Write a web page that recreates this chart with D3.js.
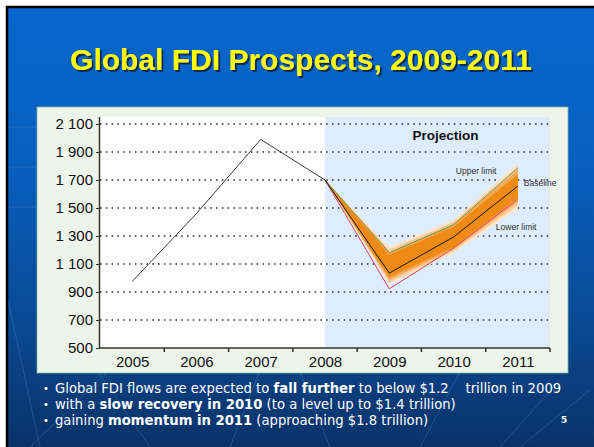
<!DOCTYPE html>
<html>
<head>
<meta charset="utf-8">
<script src="https://cdn.jsdelivr.net/npm/d3@7"></script>
<style>
body{margin:0;background:#fff;}
svg{display:block;font-family:Arial,"Liberation Sans",sans-serif;}
</style>
</head>
<body>
<div id="chart"></div>
<script>
// data (billions of dollars)
const years = ["2005","2006","2007","2008","2009","2010","2011"];
const histYears = ["2005","2006","2007","2008"];
const histValues = [975, 1460, 1990, 1700];
const projYears = ["2008","2009","2010","2011"];
const baseline = [1700, 1035, 1293, 1657];
const upperLimit = [1700, 1180, 1380, 1786];
const lowerLimit = [1700, 922, 1214, 1564];
// fan chart bands, outermost first
const bandLow = [
	[1700, 950, 1178, 1495],
	[1700, 968, 1192, 1520],
	[1700, 988, 1206, 1545],
	[1700, 1006, 1220, 1575]
];
const bandHigh = [
	[1700, 1222, 1414, 1822],
	[1700, 1202, 1400, 1796],
	[1700, 1184, 1384, 1770],
	[1700, 1165, 1364, 1738]
];
const bandColors = ["#fde5cc", "#fbc896", "#f6a553", "#ef8a14"];
const yTicks = [500, 700, 900, 1100, 1300, 1500, 1700, 1900, 2100];
const title = "Global FDI Prospects, 2009-2011";
const bullets = [
	[["Global FDI flows are expected to ", false], ["fall further", true], [" to below $1.2    trillion in 2009", false]],
	[["with a ", false], ["slow recovery in 2010", true], [" (to a level up to $1.4 trillion)", false]],
	[["gaining ", false], ["momentum in 2011", true], [" (approaching $1.8 trillion)", false]]
];

let W = 594, H = 447,
	margin = {left:100, right:44, top:124, bottom:99};

let svg = d3.select("#chart").append("svg").attr("width", W).attr("height", H);

// slide background
let defs = svg.append("defs");
let grad = defs.append("linearGradient").attr("id", "bg").attr("x1", 0).attr("y1", 0).attr("x2", 0).attr("y2", 1);
grad.append("stop").attr("offset", "0%").attr("stop-color", "#0767cc");
grad.append("stop").attr("offset", "35%").attr("stop-color", "#085fc0");
grad.append("stop").attr("offset", "70%").attr("stop-color", "#0a4a94");
grad.append("stop").attr("offset", "100%").attr("stop-color", "#0a3166");

let shadow = defs.append("filter").attr("id", "shadow").attr("x", "-5%").attr("y", "-20%").attr("width", "110%").attr("height", "140%");
shadow.append("feDropShadow").attr("dx", 2).attr("dy", 2).attr("stdDeviation", 0.6)
	.attr("flood-color", "#0c2a55").attr("flood-opacity", 1);

svg.append("rect").attr("x", 6).attr("y", 6).attr("width", W).attr("height", H).attr("fill", "url(#bg)");

// faint background pattern lines
let deco = svg.append("g").attr("stroke", "#5a8ccc").attr("stroke-width", 0.7).attr("opacity", 0.45);
[[30,447,120,360],[150,447,90,360],[230,447,260,370],[330,447,300,372],[420,447,460,372],[500,447,560,380],[590,390,520,447],[8,300,40,447]]
	.forEach(function(l){
		deco.append("line").attr("x1", l[0]).attr("y1", l[1]).attr("x2", l[2]).attr("y2", l[3]);
	});
[127,167,207].forEach(function(yy){
	deco.append("line").attr("x1", 8).attr("y1", yy).attr("x2", 37).attr("y2", yy);
});

// black border top / left
svg.append("path").attr("d", "M7," + H + "V7H" + W).attr("fill", "none").attr("stroke", "#000").attr("stroke-width", 2.5);

// title
svg.append("text").attr("x", 301).attr("y", 70).attr("text-anchor", "middle")
	.style("font-size", "30px").style("font-weight", "bold").attr("fill", "#ffff00")
	.attr("filter", "url(#shadow)")
	.text(title);

// chart panel
svg.append("rect").attr("x", 37).attr("y", 107).attr("width", 531).attr("height", 266)
	.attr("fill", "#eef4ea").attr("stroke", "#7fb8a8").attr("stroke-width", 0.8);

let x = d3.scalePoint().domain(years).range([margin.left, W - margin.right]).padding(0.5),
	xBand = d3.scaleBand().domain(years).range([margin.left, W - margin.right]),
	y = d3.scaleLinear().domain([500, 2100]).range([H - margin.bottom, margin.top]);

let plotTop = y(2100) - 7;

// plot backgrounds
svg.append("rect").attr("x", margin.left).attr("y", plotTop)
	.attr("width", x("2008") - margin.left).attr("height", y(500) - plotTop).attr("fill", "#ffffff");
svg.append("rect").attr("x", x("2008")).attr("y", plotTop)
	.attr("width", W - margin.right - x("2008")).attr("height", y(500) - plotTop).attr("fill", "#ddedfd");

// dotted grid
svg.append("g").selectAll("line").data(yTicks.filter(function(d){ return d > 500; })).join("line")
	.attr("x1", margin.left).attr("x2", W - margin.right)
	.attr("y1", function(d){ return y(d); }).attr("y2", function(d){ return y(d); })
	.attr("stroke", "#333").attr("stroke-width", 1.6).attr("stroke-dasharray", "1.6,4.2");

// fan bands
let area = d3.area()
	.x(function(d){ return x(d.year); })
	.y0(function(d){ return y(d.lo); })
	.y1(function(d){ return y(d.hi); });

bandColors.forEach(function(c, bi){
	let pts = projYears.map(function(yr, i){
		return {year: yr, lo: bandLow[bi][i], hi: bandHigh[bi][i]};
	});
	svg.append("path").datum(pts).attr("d", area).attr("fill", c);
});

let line = d3.line().x(function(d){ return x(d[0]); }).y(function(d){ return y(d[1]); });

function drawLine(yrs, vals, color, w){
	svg.append("path").datum(d3.zip(yrs, vals)).attr("d", line)
		.attr("fill", "none").attr("stroke", color).attr("stroke-width", w);
}
drawLine(projYears, upperLimit, "#6f9e4a", 1);
drawLine(projYears, lowerLimit, "#e0475a", 1);
drawLine(projYears, baseline, "#1a1a1a", 1);
drawLine(histYears, histValues, "#3a3a3a", 1);

// axes
let fmt = d3.formatLocale({decimal:".", thousands:"\u00a0", grouping:[3], currency:["",""]}).format(",");

let yAxis = svg.append("g").attr("transform", "translate(" + margin.left + ",0)")
	.call(d3.axisLeft(y).tickValues(yTicks).tickFormat(fmt).tickSize(4).tickPadding(3));
yAxis.select(".domain").attr("d", "M-0.5," + plotTop + "V" + y(500)).attr("stroke", "#333").attr("stroke-width", 1.5);
yAxis.selectAll(".tick line").attr("stroke", "#333");
yAxis.selectAll("text").style("font-size", "15px").attr("fill", "#111");

let xAxis = svg.append("g").attr("transform", "translate(0," + y(500) + ")")
	.call(d3.axisBottom(x).tickSize(0).tickPadding(8));
xAxis.select(".domain").attr("d", "M" + margin.left + ",0H" + (W - margin.right)).attr("stroke", "#333").attr("stroke-width", 1.5);
xAxis.selectAll("text").style("font-size", "15px").attr("fill", "#111");
xAxis.selectAll("line.bnd").data(years.slice(1).concat(["end"])).join("line")
	.attr("class", "bnd")
	.attr("x1", function(d){ return d === "end" ? W - margin.right : xBand(d); })
	.attr("x2", function(d){ return d === "end" ? W - margin.right : xBand(d); })
	.attr("y1", 0).attr("y2", 4).attr("stroke", "#333").attr("stroke-width", 1.5);

// annotations
svg.append("text").attr("x", (x("2009") + x("2011")) / 2 - 8).attr("y", 140).attr("text-anchor", "middle")
	.style("font-size", "13.5px").style("font-weight", "bold").attr("fill", "#111").text("Projection");
svg.append("text").attr("x", x("2011") - 62).attr("y", 174)
	.style("font-size", "8.5px").attr("fill", "#333").text("Upper limit");
svg.append("text").attr("x", x("2011") + 6).attr("y", 186)
	.style("font-size", "8.5px").attr("fill", "#333").text("Baseline");
svg.append("text").attr("x", x("2011") - 22).attr("y", 230)
	.style("font-size", "8.5px").attr("fill", "#333").text("Lower limit");

// bullet text
let bg = svg.append("g").style("font-family", "Verdana, 'DejaVu Sans', sans-serif").attr("fill", "#fff");
bullets.forEach(function(parts, i){
	let yy = 393 + i * 16;
	bg.append("text").attr("x", 43).attr("y", yy - 1).style("font-size", "10px").text("\u2022");
	let t = bg.append("text").attr("x", 55).attr("y", yy).style("font-size", "13.2px").attr("xml:space", "preserve").style("white-space", "pre");
	parts.forEach(function(p){
		t.append("tspan").style("font-weight", p[1] ? "bold" : "normal").text(p[0]);
	});
});
svg.append("text").attr("x", 561).attr("y", 423).style("font-size", "9px").style("font-weight", "bold")
	.attr("fill", "#fff").style("font-family", "Verdana, 'DejaVu Sans', sans-serif").text("5");
</script>
</body>
</html>
